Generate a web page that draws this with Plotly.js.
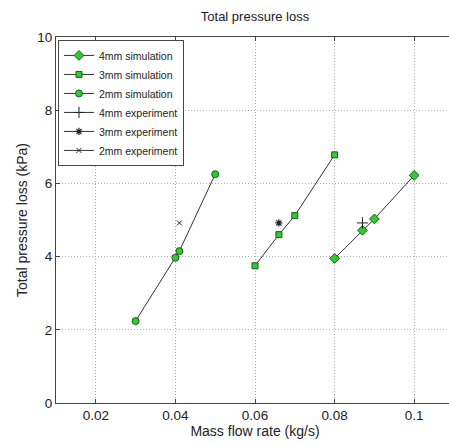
<!DOCTYPE html>
<html><head><meta charset="utf-8">
<script src="https://cdn.plot.ly/plotly-3.0.1.min.js"></script>
<style>html,body{margin:0;padding:0;overflow:hidden;background:#fff}#c{width:454px;height:446px}</style>
</head><body><div id="c"></div>
<script>
const sim4x = [0.080, 0.087, 0.090, 0.100];
const sim4y = [3.95, 4.72, 5.03, 6.22];
const sim3x = [0.060, 0.066, 0.070, 0.080];
const sim3y = [3.75, 4.60, 5.12, 6.78];
const sim2x = [0.030, 0.040, 0.041, 0.050];
const sim2y = [2.24, 3.97, 4.15, 6.25];
const exp4x = [0.087];
const exp4y = [4.92];
const exp3x = [0.066];
const exp3y = [4.92];
const exp2x = [0.041];
const exp2y = [4.92];
const xTicks = [0.02, 0.04, 0.06, 0.08, 0.1];
const xTickText = ['0.02', '0.04', '0.06', '0.08', '0.1'];
const yTicks = [0, 2, 4, 6, 8, 10];

const green = '#2fcc2f';
const lineS = {color: '#333', width: 1};
const mk = (sym, size) => ({symbol: sym, size: size, color: green, line: {color: '#1a5a1a', width: 1}});
const traces = [
  {x: sim4x, y: sim4y, name: '4mm simulation', mode: 'lines+markers', line: lineS, marker: mk('diamond', 7.5)},
  {x: sim3x, y: sim3y, name: '3mm simulation', mode: 'lines+markers', line: lineS, marker: mk('square', 6)},
  {x: sim2x, y: sim2y, name: '2mm simulation', mode: 'lines+markers', line: lineS, marker: mk('circle', 7)},
  {x: exp4x, y: exp4y, name: '4mm experiment', mode: 'lines+markers', line: lineS, marker: {symbol: 'cross-thin', size: 8, line: {color: '#222', width: 1}}},
  {x: exp3x, y: exp3y, name: '3mm experiment', mode: 'lines+markers', line: lineS, marker: {symbol: 'asterisk', size: 6, line: {color: '#222', width: 1.2}}},
  {x: exp2x, y: exp2y, name: '2mm experiment', mode: 'lines+markers', line: lineS, marker: {symbol: 'x-thin', size: 5, line: {color: '#222', width: 1}}}
];
const ax = {
  showline: true, linecolor: '#444', linewidth: 1, mirror: 'ticks',
  ticks: 'inside', ticklen: 4, tickcolor: '#444',
  showgrid: true, gridcolor: '#aaa', griddash: '1px,2px', gridwidth: 1,
  zeroline: false, tickfont: {size: 13.5, color: '#222'}
};
const layout = {
  width: 454, height: 446,
  margin: {l: 56, r: 0, t: 37, b: 43},
  paper_bgcolor: '#fff', plot_bgcolor: '#fff',
  font: {family: 'Liberation Sans, Arial, sans-serif', color: '#222'},
  title: {text: 'Total pressure loss', font: {size: 13}, x: 0.5, xref: 'paper', y: 0.962, yanchor: 'middle'},
  xaxis: Object.assign({}, ax, {range: [0.01, 0.11], tickvals: xTicks, ticktext: xTickText,
    title: {text: 'Mass flow rate (kg/s)', font: {size: 14}, standoff: 0}}),
  yaxis: Object.assign({}, ax, {range: [0, 10], tickvals: yTicks,
    title: {text: 'Total pressure loss (kPa)', font: {size: 14}, standoff: 6}}),
  showlegend: true,
  legend: {x: 0.005, y: 0.992, xanchor: 'left', yanchor: 'top', bgcolor: '#fff', bordercolor: '#444', borderwidth: 1,
    font: {size: 10.5}, tracegroupgap: 0, itemwidth: 30}
};
Plotly.newPlot('c', traces, layout, {displayModeBar: false, staticPlot: true});
</script></body></html>
